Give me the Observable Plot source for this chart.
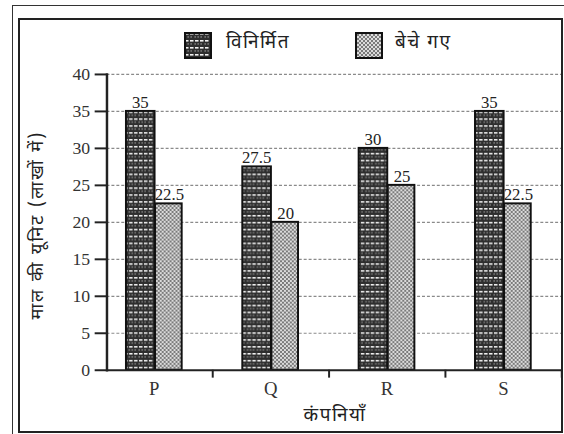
<!DOCTYPE html>
<html>
<head>
<meta charset="utf-8">
<script src="https://cdn.jsdelivr.net/npm/d3@7"></script>
<script src="https://cdn.jsdelivr.net/npm/@observablehq/plot@0.6"></script>
<style>
  html, body { margin: 0; padding: 0; background: #fff; overflow: hidden; }
  #wrap { position: relative; width: 564px; height: 434px; overflow: hidden; background: #fff; }
  #outer { position: absolute; left: 12px; top: 5px; width: 600px; height: 500px; border: 1.5px solid #333; box-sizing: border-box; z-index: 3; pointer-events: none; }
  #inner { position: absolute; left: 18px; top: 18px; width: 545px; height: 415px; border: 2px solid #222; box-sizing: border-box; z-index: 3; pointer-events: none; }
  #chart { position: absolute; left: 0; top: 0; z-index: 1; }
  .dev { font-family: "Noto Sans Devanagari", "Lohit Devanagari", "Noto Serif Devanagari", "FreeSerif", "Mangal", sans-serif; color: #222; }
  #legend { position: absolute; top: 32px; left: 0; width: 564px; height: 28px; z-index: 2; }
  .sw { position: absolute; top: 0; }
  .lt { position: absolute; top: -1px; font-size: 19px; line-height: 26px; letter-spacing: 1.5px; }
  #ytitle { position: absolute; left: 38px; top: 225px; transform: translate(-50%, -50%) rotate(-90deg); white-space: nowrap; font-size: 18px; letter-spacing: 2px; z-index: 2; }
  #xtitle { position: absolute; left: 335px; top: 404px; transform: translateX(-50%); white-space: nowrap; font-size: 19px; letter-spacing: 1.5px; z-index: 2; }
</style>
</head>
<body>
<svg width="0" height="0" style="position:absolute">
  <defs>
    <pattern id="patMfg" patternUnits="userSpaceOnUse" width="10" height="7">
      <rect width="10" height="7" fill="#2e2e2e"></rect>
      <rect x="1" y="1" width="3.5" height="1.6" fill="#f2f2f2"></rect>
      <rect x="6" y="1" width="3.5" height="1.6" fill="#f2f2f2"></rect>
      <rect x="0.5" y="4.3" width="1.3" height="1.3" fill="#9a9a9a"></rect>
      <rect x="3.5" y="4.3" width="1.3" height="1.3" fill="#9a9a9a"></rect>
      <rect x="6.5" y="4.3" width="1.3" height="1.3" fill="#9a9a9a"></rect>
    </pattern>
    <pattern id="patSold" patternUnits="userSpaceOnUse" width="4" height="4">
      <rect width="4" height="4" fill="#dcdcdc"></rect>
      <rect x="0" y="0" width="2" height="2" fill="#7a7a7a"></rect>
      <rect x="2" y="2" width="2" height="2" fill="#7a7a7a"></rect>
    </pattern>
  </defs>
</svg>
<div id="wrap">
  <div id="outer"></div>
  <div id="inner"></div>
  <div id="legend">
    <svg class="sw" style="left:184px" width="28" height="27"><rect x="1" y="1" width="26" height="25" fill="url(#patMfg)" stroke="#111" stroke-width="2"></rect></svg>
    <span class="lt dev" id="lt1" style="left:226px"></span>
    <svg class="sw" style="left:355px" width="28" height="27"><rect x="1" y="1" width="26" height="25" fill="url(#patSold)" stroke="#111" stroke-width="2"></rect></svg>
    <span class="lt dev" id="lt2" style="left:395px"></span>
  </div>
  <div id="ytitle" class="dev"></div>
  <div id="xtitle" class="dev"></div>
  <div id="chart"></div>
</div>
<script>
const companies = ["P", "Q", "R", "S"];
const manufactured = [35, 27.5, 30, 35];
const sold = [22.5, 20, 25, 22.5];
const seriesNames = ["विनिर्मित", "बेचे गए"];
const yTicks = [0, 5, 10, 15, 20, 25, 30, 35, 40];
const yTitle = "माल की यूनिट (लाखों में)";
const xTitle = "कंपनियाँ";

document.getElementById("lt1").textContent = seriesNames[0];
document.getElementById("lt2").textContent = seriesNames[1];
document.getElementById("ytitle").textContent = yTitle;
document.getElementById("xtitle").textContent = xTitle;

const mfgData = companies.map((c, i) => ({company: c, value: manufactured[i]}));
const soldData = companies.map((c, i) => ({company: c, value: sold[i]}));

const serif = "Liberation Serif, Times New Roman, serif";
const half = 59.25;

const chart = Plot.plot({
  width: 572,
  height: 434,
  marginLeft: 108,
  marginRight: 2,
  marginTop: 75,
  marginBottom: 59,
  style: {background: "transparent", overflow: "visible"},
  x: {domain: companies, range: [96, 570], padding: 0, axis: null},
  y: {domain: [0, 40], axis: null},
  marks: [
    Plot.gridY(yTicks.filter(d => d > 0), {stroke: "#8a8a8a", strokeOpacity: 1, strokeWidth: 1.2, strokeDasharray: "3,2"}),
    Plot.barY(mfgData, {x: "company", y: "value", fill: "url(#patMfg)", stroke: "#111", strokeWidth: 2, insetLeft: 30.75, insetRight: 58.25}),
    Plot.barY(soldData, {x: "company", y: "value", fill: "url(#patSold)", stroke: "#111", strokeWidth: 2, insetLeft: 60.25, insetRight: 30.75}),
    Plot.text(mfgData, {x: "company", y: "value", text: d => String(d.value), dx: -14.25, dy: -3.5, lineAnchor: "bottom", fontSize: 17, fontFamily: serif, fill: "#222"}),
    Plot.text(soldData, {x: "company", y: "value", text: d => String(d.value), dx: 15.25, dy: -3.5, lineAnchor: "bottom", fontSize: 17, fontFamily: serif, fill: "#222"}),
    Plot.ruleY([0], {stroke: "#222", strokeWidth: 2}),
    Plot.frame({anchor: "left", stroke: "#222", strokeWidth: 2.5}),
    Plot.axisY(yTicks, {tickSize: 12, tickPadding: 5, strokeWidth: 2, stroke: "#222", fontSize: 18, fontFamily: serif, fill: "#333", label: null}),
    Plot.axisX(companies, {tickSize: 8, tickFormat: () => "", dx: half, strokeWidth: 2, stroke: "#222", label: null}),
    Plot.axisX(companies, {tickSize: 0, tickPadding: 12, fontSize: 19, fontFamily: serif, fill: "#333", label: null})
  ]
});
document.getElementById("chart").appendChild(chart);
</script>
</body>
</html>
